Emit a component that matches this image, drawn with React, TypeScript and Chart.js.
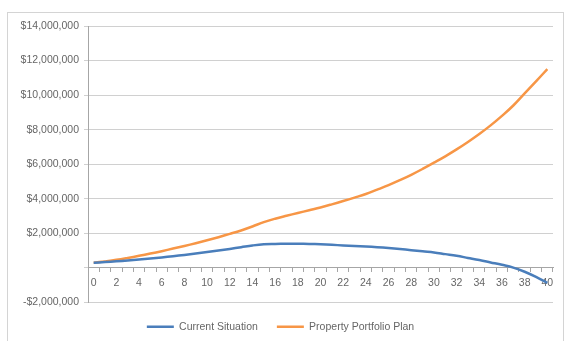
import React, { useEffect, useRef } from "react";
import { Chart, registerables } from "chart.js";

Chart.register(...registerables);

const years: string[] = [
  "0", "1", "2", "3", "4", "5", "6", "7", "8", "9", "10",
  "11", "12", "13", "14", "15", "16", "17", "18", "19", "20",
  "21", "22", "23", "24", "25", "26", "27", "28", "29", "30",
  "31", "32", "33", "34", "35", "36", "37", "38", "39", "40",
];

const currentSituation: number[] = [
  300000, 340000, 380000, 430000, 490000, 550000, 610000, 680000, 750000, 830000, 920000,
  1010000, 1100000, 1200000, 1300000, 1370000, 1390000, 1400000, 1400000, 1390000, 1370000,
  1340000, 1300000, 1270000, 1240000, 1200000, 1150000, 1090000, 1030000, 960000, 900000,
  800000, 700000, 580000, 460000, 320000, 180000, 20000, -220000, -520000, -870000,
];

const propertyPortfolioPlan: number[] = [
  300000, 380000, 470000, 580000, 700000, 830000, 970000, 1120000, 1270000, 1430000, 1600000,
  1780000, 1970000, 2170000, 2400000, 2650000, 2850000, 3020000, 3180000, 3340000, 3500000,
  3680000, 3870000, 4070000, 4280000, 4530000, 4790000, 5080000, 5390000, 5730000, 6090000,
  6460000, 6860000, 7290000, 7750000, 8250000, 8800000, 9400000, 10100000, 10800000, 11500000,
];

const seriesNames: string[] = ["Current Situation", "Property Portfolio Plan"];
const seriesColors: string[] = ["#4a7ebb", "#f79646"];

const yMin = -2000000;
const yMax = 14000000;
const yStep = 2000000;

function formatMoney(v: number): string {
  if (v === 0) return "";
  const abs = Math.abs(v).toLocaleString("en-US");
  return (v < 0 ? "-$" : "$") + abs;
}

export default function App() {
  const canvasRef = useRef<HTMLCanvasElement | null>(null);

  useEffect(() => {
    if (!canvasRef.current) return;
    const font = { family: "'Liberation Sans', Arial, sans-serif", size: 10.5 };
    const chart = new Chart(canvasRef.current, {
      type: "line",
      data: {
        labels: years,
        datasets: [
          {
            label: seriesNames[0],
            data: currentSituation,
            borderColor: seriesColors[0],
            backgroundColor: seriesColors[0],
            borderWidth: 2.5,
            pointRadius: 0,
            tension: 0.4,
            fill: false,
          },
          {
            label: seriesNames[1],
            data: propertyPortfolioPlan,
            borderColor: seriesColors[1],
            backgroundColor: seriesColors[1],
            borderWidth: 2.5,
            pointRadius: 0,
            tension: 0.4,
            fill: false,
          },
        ],
      },
      options: {
        animation: false,
        responsive: false,
        maintainAspectRatio: false,
        layout: { padding: { left: 8, right: 15, top: 26, bottom: 0 } },
        plugins: {
          tooltip: { enabled: false },
          legend: {
            position: "bottom",
            labels: {
              font,
              color: "#666666",
              padding: 19,
              usePointStyle: true,
              pointStyle: "line",
              pointStyleWidth: 27,
            },
          },
        },
        scales: {
          x: {
            type: "category",
            offset: true,
            position: { y: 0 } as any,
            afterFit: (s: any) => {
              s.height = 0;
            },
            grid: {
              display: true,
              drawOnChartArea: false,
              drawTicks: true,
              tickLength: 4,
              offset: true,
              color: "#a6a6a6",
            },
            border: { display: true, color: "#a6a6a6", width: 1 },
            ticks: {
              autoSkip: false,
              maxRotation: 0,
              minRotation: 0,
              padding: 5,
              font,
              color: "#666666",
              callback: (_v: any, i: number) => (i % 2 === 0 ? years[i] : ""),
            },
          },
          y: {
            min: yMin,
            max: yMax,
            afterFit: (s: any) => {
              s.width = 80;
            },
            grid: {
              color: "#d0d0d0",
              tickLength: 4,
              drawTicks: true,
            },
            border: { display: true, color: "#a6a6a6", width: 1 },
            ticks: {
              stepSize: yStep,
              padding: 5,
              font,
              color: "#666666",
              callback: (v: any) => formatMoney(Number(v)),
            },
          },
        },
      },
    });
    return () => chart.destroy();
  }, []);

  return (
    <div style={{ position: "absolute", left: 0, top: 0, width: 568, height: 341, overflow: "hidden", background: "#ffffff" }}>
      <div
        style={{
          position: "absolute",
          left: 7,
          top: 12,
          width: 557,
          height: 340,
          border: "1px solid #d4d4d4",
          boxSizing: "border-box",
        }}
      />
      <canvas
        ref={canvasRef}
        width={568}
        height={342}
        style={{ position: "absolute", left: 0, top: 0, width: 568, height: 342 }}
      />
    </div>
  );
}
